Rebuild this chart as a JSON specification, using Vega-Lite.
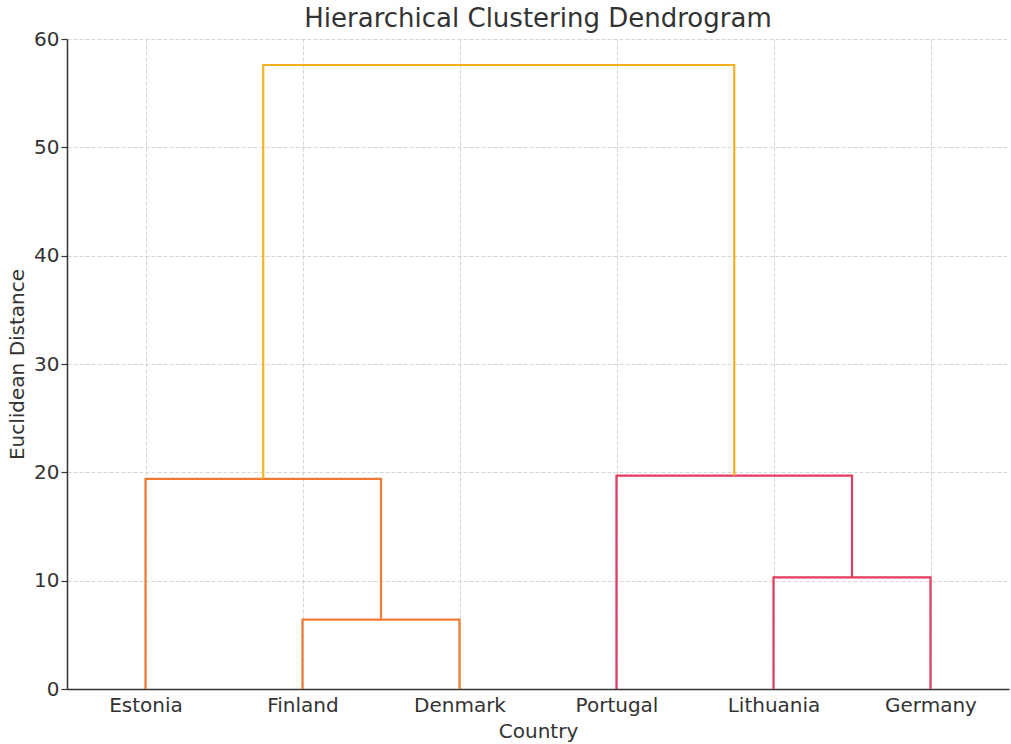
{
  "$schema": "https://vega.github.io/schema/vega-lite/v6.json",
  "width": 942,
  "height": 650,
  "autosize": {"type": "none"},
  "padding": {"left": 67, "top": 39, "right": 2, "bottom": 55},
  "background": "white",
  "title": {
    "text": "Hierarchical Clustering Dendrogram",
    "font": "DejaVu Sans",
    "fontSize": 26,
    "fontWeight": "normal",
    "color": "#333333",
    "anchor": "middle",
    "offset": -3
  },
  "config": {
    "view": {"stroke": null},
    "axis": {
      "labelFont": "DejaVu Sans",
      "titleFont": "DejaVu Sans",
      "labelFontSize": 20,
      "titleFontSize": 20,
      "titleFontWeight": "normal",
      "labelColor": "#333333",
      "titleColor": "#333333",
      "domainColor": "#333333",
      "domainWidth": 1.5,
      "tickColor": "#333333",
      "tickWidth": 1.2,
      "gridColor": "#cccccc",
      "gridWidth": 0.8,
      "gridDash": [4, 2]
    }
  },
  "data": {
    "values": [
      {"link": "FI-DK", "step": 1, "x": 15, "y": 0, "grp": "orange"},
      {"link": "FI-DK", "step": 2, "x": 15, "y": 6.4, "grp": "orange"},
      {"link": "FI-DK", "step": 3, "x": 25, "y": 6.4, "grp": "orange"},
      {"link": "FI-DK", "step": 4, "x": 25, "y": 0, "grp": "orange"},
      {"link": "EE-FIDK", "step": 1, "x": 5, "y": 0, "grp": "orange"},
      {"link": "EE-FIDK", "step": 2, "x": 5, "y": 19.4, "grp": "orange"},
      {"link": "EE-FIDK", "step": 3, "x": 20, "y": 19.4, "grp": "orange"},
      {"link": "EE-FIDK", "step": 4, "x": 20, "y": 6.4, "grp": "orange"},
      {"link": "LT-DE", "step": 1, "x": 45, "y": 0, "grp": "red"},
      {"link": "LT-DE", "step": 2, "x": 45, "y": 10.3, "grp": "red"},
      {"link": "LT-DE", "step": 3, "x": 55, "y": 10.3, "grp": "red"},
      {"link": "LT-DE", "step": 4, "x": 55, "y": 0, "grp": "red"},
      {"link": "PT-LTDE", "step": 1, "x": 35, "y": 0, "grp": "red"},
      {"link": "PT-LTDE", "step": 2, "x": 35, "y": 19.7, "grp": "red"},
      {"link": "PT-LTDE", "step": 3, "x": 50, "y": 19.7, "grp": "red"},
      {"link": "PT-LTDE", "step": 4, "x": 50, "y": 10.3, "grp": "red"},
      {"link": "top", "step": 1, "x": 12.5, "y": 19.4, "grp": "gold"},
      {"link": "top", "step": 2, "x": 12.5, "y": 57.6, "grp": "gold"},
      {"link": "top", "step": 3, "x": 42.5, "y": 57.6, "grp": "gold"},
      {"link": "top", "step": 4, "x": 42.5, "y": 19.7, "grp": "gold"}
    ]
  },
  "mark": {"type": "line", "strokeWidth": 2.2, "interpolate": "linear"},
  "encoding": {
    "x": {
      "field": "x",
      "type": "quantitative",
      "scale": {"domain": [0, 60], "nice": false, "zero": false},
      "axis": {
        "values": [5, 15, 25, 35, 45, 55],
        "labelExpr": "{'5': 'Estonia', '15': 'Finland', '25': 'Denmark', '35': 'Portugal', '45': 'Lithuania', '55': 'Germany'}[datum.label]",
        "title": "Country",
        "tickSize": 0,
        "labelPadding": 22,
        "labelBaseline": "alphabetic",
        "labelFlush": false,
        "titleBaseline": "alphabetic",
        "titleY": 48
      }
    },
    "y": {
      "field": "y",
      "type": "quantitative",
      "scale": {"domain": [0, 60], "nice": false},
      "axis": {
        "values": [0, 10, 20, 30, 40, 50, 60],
        "title": "Euclidean Distance",
        "tickSize": 6,
        "labelPadding": 2,
        "labelFlush": false,
        "titleAngle": -90,
        "titleX": -50,
        "titleY": 325,
        "titleBaseline": "middle",
        "titleAlign": "center"
      }
    },
    "detail": {"field": "link"},
    "order": {"field": "step", "type": "quantitative"},
    "color": {
      "field": "grp",
      "type": "nominal",
      "scale": {"domain": ["orange", "red", "gold"], "range": ["#EF7A34", "#E23C5F", "#F5B120"]},
      "legend": null
    }
  }
}
